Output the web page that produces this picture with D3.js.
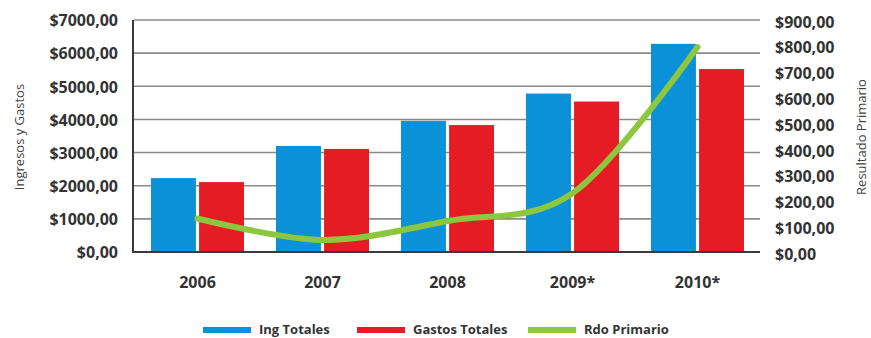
<!DOCTYPE html>
<html><head><meta charset="utf-8">
<script src="https://cdn.jsdelivr.net/npm/d3@7"></script>
<style>
html,body{margin:0;padding:0;background:#fff;}
svg{display:block;font-family:"Open Sans",sans-serif;}
</style></head>
<body><svg id="c" width="871" height="338"></svg>
<script>
const categories = ["2006","2007","2008","2009*","2010*"];
const ingTotales = [2230, 3200, 3960, 4780, 6280];
const gastosTotales = [2110, 3110, 3830, 4540, 5520];
const rdoPrimario = [130, 47, 120, 228, 795];
const leftTicks = [0,1000,2000,3000,4000,5000,6000,7000];
const rightTicks = [0,100,200,300,400,500,600,700,800,900];
const seriesNames = ["Ing Totales","Gastos Totales","Rdo Primario"];
const colors = ["#0a91d7","#e61c24","#8dc63f"];

const svg = d3.select("#c");
const m = {left:134, right:760, top:20, bottom:252};

const x = d3.scaleBand().domain(categories).range([m.left+1, m.right]).paddingInner(0.256).paddingOuter(0.128);
const x1 = d3.scaleBand().domain([0,1]).range([0, x.bandwidth()]).paddingInner(0.065);
const yL = d3.scaleLinear().domain([0,7000]).range([m.bottom, m.top]);
const yR = d3.scaleLinear().domain([0,900]).range([m.bottom, m.top]);

// gridlines
svg.append("g").selectAll("line").data(leftTicks.filter(d=>d>0)).join("line")
  .attr("x1", m.left).attr("x2", m.right)
  .attr("y1", d=>yL(d)).attr("y2", d=>yL(d))
  .attr("stroke","#8a8a8a").attr("stroke-width",1.6);

// bars
const g = svg.append("g");
categories.forEach((c,i)=>{
  [ingTotales[i], gastosTotales[i]].forEach((v,j)=>{
    g.append("rect")
      .attr("x", x(c)+x1(j)).attr("width", x1.bandwidth())
      .attr("y", yL(v)).attr("height", yL(0)-yL(v))
      .attr("fill", colors[j]);
  });
});

// axes lines
svg.append("line").attr("x1",m.left-1).attr("x2",m.left-1).attr("y1",m.top).attr("y2",m.bottom+1)
  .attr("stroke","#3a3a3a").attr("stroke-width",2);
svg.append("line").attr("x1",m.left-2).attr("x2",m.right).attr("y1",m.bottom).attr("y2",m.bottom)
  .attr("stroke","#3a3a3a").attr("stroke-width",2.2);

// line
const line = d3.line()
  .x((d,i)=>x(categories[i]) + x.bandwidth()/2)
  .y(d=>yR(d))
  .curve(d3.curveCardinal.tension(0));
svg.append("path").datum(rdoPrimario).attr("d", line)
  .attr("fill","none").attr("stroke",colors[2]).attr("stroke-width",6)
  .attr("stroke-linecap","round").attr("stroke-linejoin","round");

// left axis labels
const axL = d3.axisLeft(yL).tickValues(leftTicks).tickSize(0).tickPadding(0)
  .tickFormat(d=>"$"+d+",00");
const gL = svg.append("g").attr("transform",`translate(118,0)`).call(axL);
gL.select(".domain").remove();
gL.selectAll("text").attr("font-size",16).attr("font-weight",700).attr("fill","#333")
  .attr("font-family","'Open Sans',sans-serif").attr("dy","0.36em");

// right axis labels
const axR = d3.axisRight(yR).tickValues(rightTicks).tickSize(0).tickPadding(0)
  .tickFormat(d=>"$"+d+",00");
const gR = svg.append("g").attr("transform",`translate(775,0)`).call(axR);
gR.select(".domain").remove();
gR.selectAll("text").attr("font-size",16).attr("font-weight",700).attr("fill","#333")
  .attr("font-family","'Open Sans',sans-serif").attr("dy","0.45em");

// x axis labels
const axX = d3.axisBottom(x).tickSize(0).tickPadding(0);
const gX = svg.append("g").attr("transform",`translate(0,288)`).call(axX);
gX.select(".domain").remove();
gX.selectAll("text").attr("font-size",16).attr("font-weight",700).attr("fill","#333")
  .attr("font-family","'Open Sans',sans-serif").attr("dy",0);

// axis titles
svg.append("text").attr("transform","translate(24,137) rotate(-90)")
  .attr("text-anchor","middle").attr("font-size",13).attr("fill","#444")
  .text("Ingresos y Gastos");
svg.append("text").attr("transform","translate(866,137) rotate(-90)")
  .attr("text-anchor","middle").attr("font-size",13).attr("fill","#444")
  .text("Resultado Primario");

// legend
const legX = [203, 357, 528];
const lg = svg.append("g");
seriesNames.forEach((n,i)=>{
  lg.append("rect").attr("x",legX[i]).attr("y",327).attr("width",48).attr("height",6).attr("fill",colors[i]);
  lg.append("text").attr("x",legX[i]+56).attr("y",334).attr("font-size",13).attr("font-weight",700)
    .attr("fill","#333").text(n);
});
</script></body></html>
